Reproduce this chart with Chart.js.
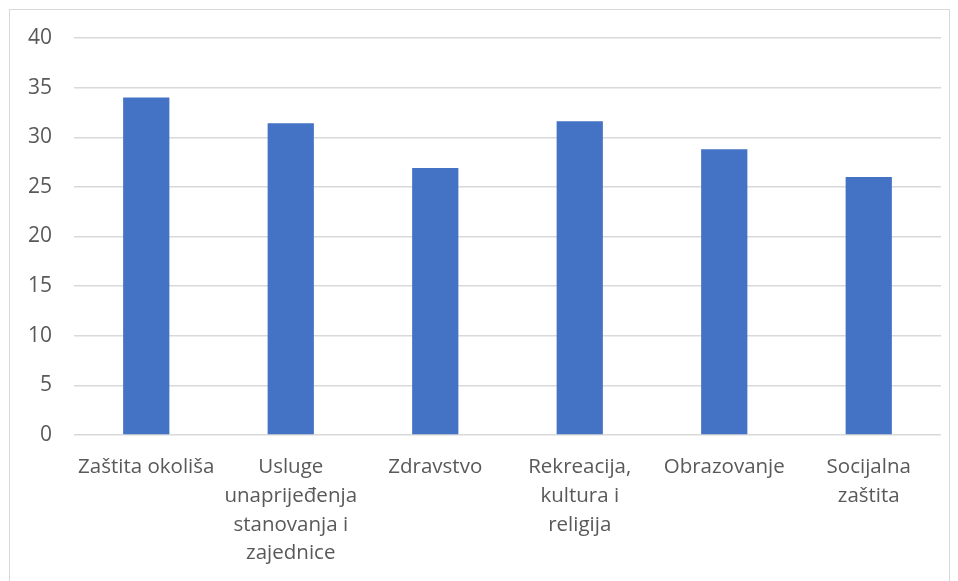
<!DOCTYPE html>
<html>
<head>
<meta charset="utf-8">
<script src="https://cdn.jsdelivr.net/npm/chart.js@4"></script>
<style>
  html, body { margin: 0; padding: 0; background: #fff; }
  #wrap { position: relative; width: 958px; height: 581px; overflow: hidden; }
  #frame { position: absolute; left: 9px; top: 9px; width: 939px; height: 620px; border: 1px solid #d9d9d9; }
  #chart { position: absolute; left: 0; top: 0; }
</style>
</head>
<body>
<div id="wrap">
  <div id="frame"></div>
  <canvas id="chart" width="958" height="581"></canvas>
</div>
<script>
// Categories (multi-line, as wrapped in the original)
const categories = [
  ["Zaštita okoliša"],
  ["Usluge", "unaprijeđenja", "stanovanja i", "zajednice"],
  ["Zdravstvo"],
  ["Rekreacija,", "kultura i", "religija"],
  ["Obrazovanje"],
  ["Socijalna", "zaštita"]
];

// Series values
const values = [34.0, 31.4, 26.9, 31.6, 28.8, 26.0];

// Y axis ticks
const yMin = 0;
const yMax = 40;
const yStep = 5;

const textColor = '#595959';
const gridColor = '#d9d9d9';
const fontFamily = '"Open Sans", sans-serif';

const ctx = document.getElementById('chart').getContext('2d');

const chart = new Chart(ctx, {
  type: 'bar',
  data: {
    labels: categories,
    datasets: [{
      data: values,
      backgroundColor: '#4472c4',
      borderWidth: 0,
      categoryPercentage: 1,
      barPercentage: 0.32
    }]
  },
  options: {
    responsive: false,
    animation: false,
    layout: { padding: { top: 38, right: 17, left: 0, bottom: 0 } },
    plugins: {
      legend: { display: false },
      tooltip: { enabled: false }
    },
    scales: {
      x: {
        grid: { display: false, drawTicks: false },
        border: { display: false },
        ticks: {
          color: textColor,
          font: { family: fontFamily, size: 20.5, lineHeight: 1.4 },
          padding: 18,
          maxRotation: 0,
          autoSkip: false
        },
        afterFit: (scale) => { scale.height = 146; }
      },
      y: {
        min: yMin,
        max: yMax,
        grid: { color: gridColor, lineWidth: 1.5, drawTicks: false },
        border: { display: false },
        ticks: {
          stepSize: yStep,
          color: textColor,
          font: { family: fontFamily, size: 21 },
          padding: 22
        },
        afterFit: (scale) => { scale.width = 74; }
      }
    }
  }
});
</script>
</body>
</html>
